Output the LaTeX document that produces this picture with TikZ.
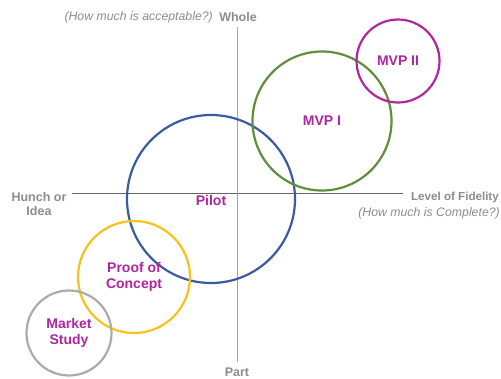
\documentclass[tikz,border=0pt]{standalone}
\usepackage{fontspec}
\setmainfont{Liberation Sans}
\usepackage{xcolor}
\usepackage{tikz}
\usetikzlibrary{positioning,calc}

\definecolor{txtmag}{HTML}{B0259F}
\definecolor{axgray}{HTML}{7F7F7F}
\definecolor{lblgray}{HTML}{8C8C8C}
\definecolor{cblue}{HTML}{3B5BA0}
\definecolor{cgreen}{HTML}{5E8E3E}
\definecolor{cmag}{HTML}{B4259C}
\definecolor{cyellow}{HTML}{F6C21B}
\definecolor{cgray}{HTML}{ABABAB}

\begin{document}
\begin{tikzpicture}[x=1pt,y=-1pt,
    stage/.style={circle,draw,line width=2.2pt,inner sep=0pt,align=center,text=txtmag,font=\fontsize{14}{16.5}\selectfont\bfseries},
    axlabel/.style={text=lblgray,font=\fontsize{12.5}{14}\selectfont\bfseries,inner sep=0pt},
    axnote/.style={text=lblgray,font=\fontsize{12.3}{14}\selectfont\itshape,inner sep=0pt}]
        \useasboundingbox (0,0) rectangle (501,378);
        % axes
        \coordinate (xl) at (72,193);
        \coordinate (xr) at (403,193);
        \coordinate (yt) at (237,27);
        \coordinate (yb) at (237,362);
        \draw[axgray!80!black,line width=0.8pt] (xl) -- (xr);
        \draw[axgray!70,line width=1pt] (yt) -- (yb);
        \node[axlabel] (whole) at (238,17) {Whole};
        \node[axnote,left = 6pt of whole] (accept) {(How much is acceptable?)};
        \node[axlabel] (part) at (237,372) {Part};
        \node[axlabel,align=center] (hunch) at (39,204) {Hunch or\\Idea};
        \node[axlabel,anchor=east,font=\fontsize{11.6}{14}\selectfont\bfseries] (fidelity) at (499,197) {Level of Fidelity};
        \node[axnote,anchor=east] (complete) at (500,213) {(How much is Complete?)};
        % stages
        \node[stage,draw=cblue,minimum size=168pt] (pilot) at (211,199) {};
        \node[text=txtmag,font=\fontsize{14}{16.5}\selectfont\bfseries] (pilotlbl) at (211,200) {Pilot};
        \node[stage,draw=cgreen,minimum size=139pt] (mvp1) at (322,121) {MVP I};
        \node[stage,draw=cmag,minimum size=83pt] (mvp2) at (398,61) {MVP II};
        \node[stage,draw=cyellow,minimum size=112pt] (poc) at (134,277) {Proof of\\Concept};
        \node[stage,draw=cgray,minimum size=85pt] (market) at (69,333) {Market\\Study};
    \end{tikzpicture}
\end{document}
